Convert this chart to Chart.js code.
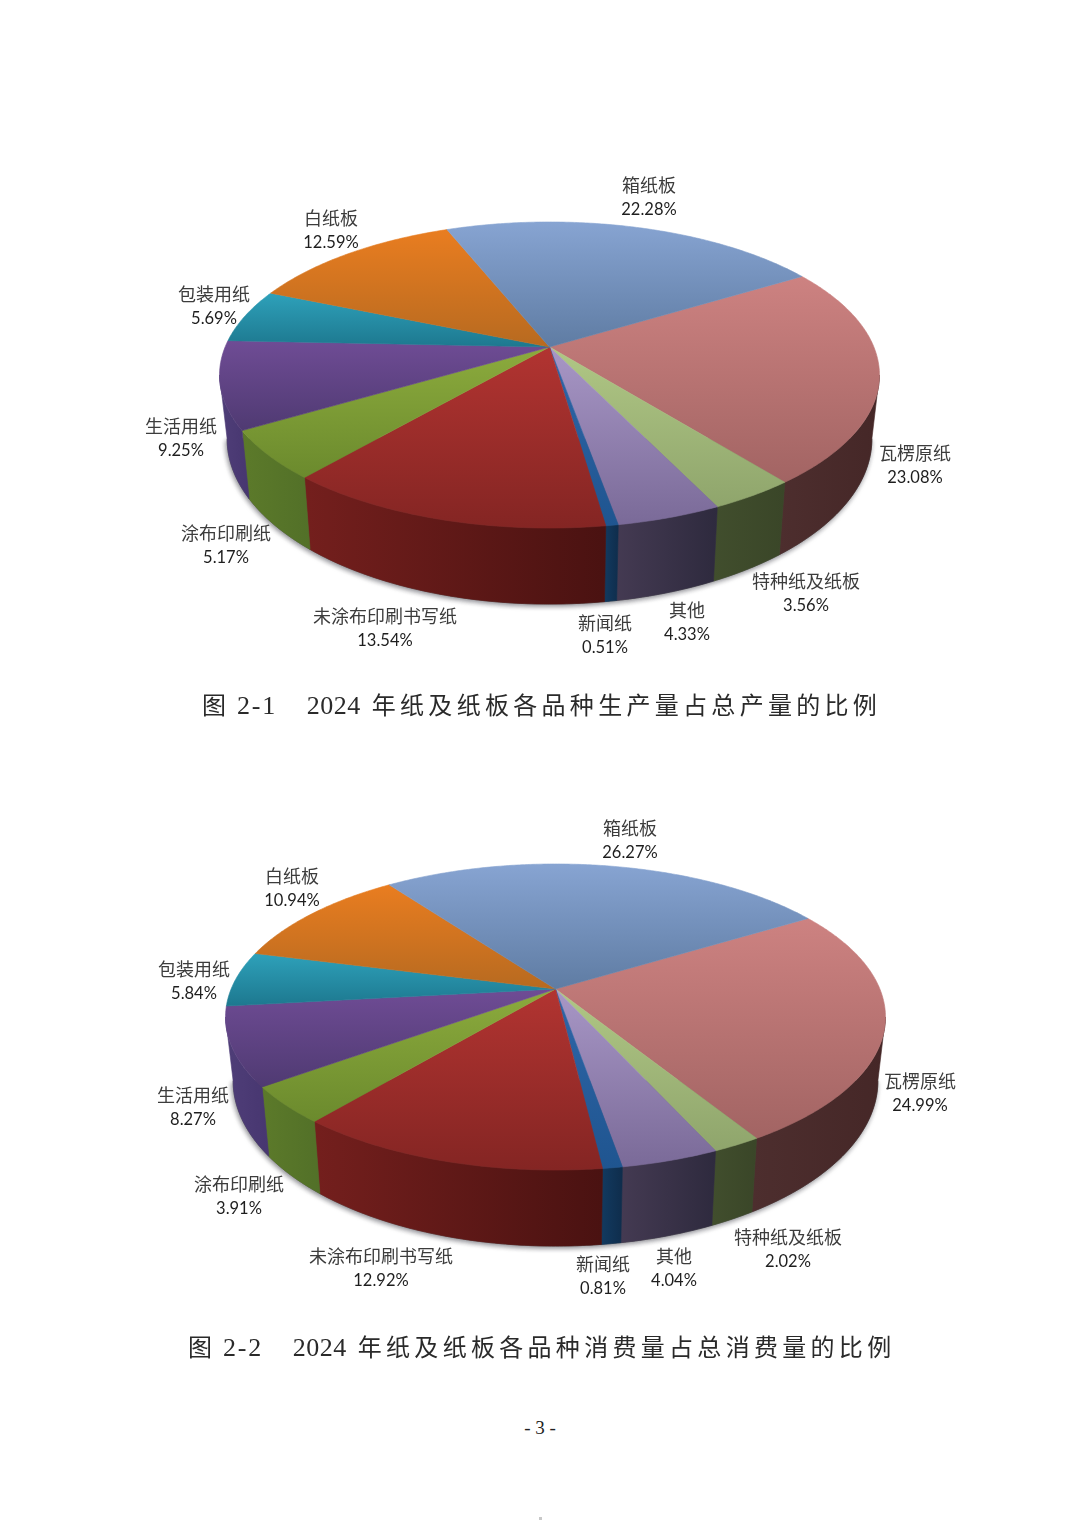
<!DOCTYPE html>
<html lang="zh">
<head>
<meta charset="utf-8">
<title>2024 年纸及纸板各品种比例</title>
<script src="https://cdn.jsdelivr.net/npm/chart.js@4"></script>
<style>
  html, body { margin: 0; padding: 0; background: #fff; }
  body { position: relative; width: 1080px; height: 1528px; overflow: hidden; }
  canvas { position: absolute; left: 0; }
  .caption {
    position: absolute;
    white-space: pre;
    font-family: "Noto Sans CJK SC", sans-serif;
    font-size: 24px;
    line-height: 30px;
    letter-spacing: 4.3px;
    word-spacing: -3px;
    color: #2a2a2a;
  }
  .caption .fig, .caption .gap, .caption .num { font-family: "Liberation Serif", serif; font-size: 26px; }
  .caption .fig { letter-spacing: 1.8px; }
  .caption .gap { letter-spacing: 0; word-spacing: 3.4px; }
  .caption .num { letter-spacing: 0.5px; word-spacing: 4px; }
  #pageNo { position: absolute; left: 0; width: 1080px; top: 1417px; text-align: center; font: 19px "Liberation Serif", serif; color: #222; }
  #dot { position: absolute; left: 539px; top: 1517px; width: 3px; height: 3px; background: #c8c8c8; }
</style>
</head>
<body>
<canvas id="pieProduction" width="1080" height="760" style="top:0"></canvas>
<canvas id="pieConsumption" width="1080" height="640" style="top:760px"></canvas>
<div class="caption" style="left:202px;top:689px">图 <span class="fig">2-1</span><span class="gap">   </span><span class="num">2024 </span>年纸及纸板各品种生产量占总产量的比例</div>
<div class="caption" style="left:188px;top:1331px">图 <span class="fig">2-2</span><span class="gap">   </span><span class="num">2024 </span>年纸及纸板各品种消费量占总消费量的比例</div>
<div id="pageNo">- 3 -</div>
<div id="dot"></div>
<script>
const categories = ["瓦楞原纸", "特种纸及纸板", "其他", "新闻纸", "未涂布印刷书写纸", "涂布印刷纸", "生活用纸", "包装用纸", "白纸板", "箱纸板"];
const productionShare = [23.08, 3.56, 4.33, 0.51, 13.54, 5.17, 9.25, 5.69, 12.59, 22.28];
const consumptionShare = [24.99, 2.02, 4.04, 0.81, 12.92, 3.91, 8.27, 5.84, 10.94, 26.27];

// slice colours, same order as categories
const topLight = ["#cd8281", "#b0c785", "#a897c6", "#2f66a8", "#b23431", "#8cab3d", "#6f4c95", "#2ea1ba", "#e97d20", "#87a4d2"];
const topDark = ["#a26463", "#8fa56c", "#7a6a98", "#1f5590", "#842523", "#6b8a2d", "#4f3a72", "#1d788f", "#b76a20", "#5f7ca3"];
const wallLight = ["#4d2e2e", "#414e2d", "#443a52", "#123a60", "#741f1d", "#5c7a2a", "#4f3e78", "#14505f", "#7a4415", "#3e5272"];
const wallDark = ["#452727", "#3a4628", "#2e2a3e", "#0f2d4c", "#4a1211", "#527028", "#473670", "#14505f", "#7a4415", "#3e5272"];

// label centres in page pixels, same order as categories
const productionLabelX = [915, 806, 687, 605, 385, 226, 181, 214, 331, 649];
const productionLabelY = [453, 581, 610, 623, 616, 533, 426, 294, 218, 185];
const consumptionLabelX = [920, 788, 674, 603, 381, 239, 193, 194, 292, 630];
const consumptionLabelY = [1081, 1237, 1256, 1264, 1256, 1184, 1095, 969, 876, 828];

// perspective of the tilted disc
const discRadius = 324.4;
const discSquash = 147.9;
const discPerspective = 0.183;
const floorScaleX = 0.977;
const floorScaleY = 1.081;
const floorDrop = 61.4;

function topPoint(angle) {
  const w = 1 - discPerspective * Math.sin(angle);
  return { x: discRadius * Math.cos(angle) / w, y: discSquash * Math.sin(angle) / w };
}

function floorPoint(angle) {
  const p = topPoint(angle);
  return { x: p.x * floorScaleX, y: p.y * floorScaleY + floorDrop };
}

function arcPoints(fn, a0, a1) {
  const steps = Math.max(2, Math.ceil((a1 - a0) / 0.01));
  const pts = [];
  for (let i = 0; i <= steps; i++) pts.push(fn(a0 + (a1 - a0) * i / steps));
  return pts;
}

function fillPath(ctx, pts, paint) {
  ctx.beginPath();
  pts.forEach((p, i) => (i ? ctx.lineTo(p.x, p.y) : ctx.moveTo(p.x, p.y)));
  ctx.closePath();
  ctx.fillStyle = paint;
  ctx.strokeStyle = paint;
  ctx.lineWidth = 0.6;
  ctx.fill();
  ctx.stroke();
}

const disc3d = {
  id: "disc3d",
  beforeDatasetsDraw(chart, args, opts) {
    const ctx = chart.ctx;
    const arcs = chart.getDatasetMeta(0).data;
    // the wall only shows between the two widest points of the disc
    const wallFrom = Math.asin(discPerspective);
    const wallTo = Math.PI - wallFrom;
    ctx.save();
    ctx.translate(opts.cx, opts.cy);

    // soft shadow under the wall
    ctx.save();
    ctx.shadowColor = "rgba(40,40,50,0.55)";
    ctx.shadowBlur = 5;
    ctx.shadowOffsetX = -1;
    ctx.shadowOffsetY = 2;
    fillPath(ctx, arcPoints(floorPoint, wallFrom, wallTo), "#555");
    ctx.restore();

    // outer wall
    arcs.forEach((arc, i) => {
      const a0 = Math.max(arc.startAngle, wallFrom);
      const a1 = Math.min(arc.endAngle, wallTo);
      if (a1 <= a0) return;
      const topEdge = arcPoints(topPoint, a0, a1);
      const floorEdge = arcPoints(floorPoint, a0, a1);
      const xs = topEdge.concat(floorEdge).map(p => p.x);
      const grad = ctx.createLinearGradient(Math.min(...xs), 0, Math.max(...xs), 0);
      grad.addColorStop(0, wallLight[i]);
      grad.addColorStop(1, wallDark[i]);
      fillPath(ctx, topEdge.concat(floorEdge.reverse()), grad);
    });

    // top face
    arcs.forEach((arc, i) => {
      const pts = [{ x: 0, y: 0 }].concat(arcPoints(topPoint, arc.startAngle, arc.endAngle));
      const ys = pts.map(p => p.y);
      const grad = ctx.createLinearGradient(0, Math.min(...ys), 0, Math.max(...ys));
      grad.addColorStop(0, topLight[i]);
      grad.addColorStop(1, topDark[i]);
      fillPath(ctx, pts, grad);
    });
    ctx.restore();

    // labels
    const values = chart.data.datasets[0].data;
    ctx.save();
    ctx.textAlign = "center";
    ctx.textBaseline = "middle";
    chart.data.labels.forEach((name, i) => {
      const x = opts.labelX[i];
      const y = opts.labelY[i] - opts.pageTop;
      ctx.fillStyle = "#3c3c3c";
      ctx.font = '18px "Noto Sans CJK SC"';
      ctx.fillText(name, x, y);
      ctx.fillStyle = "#1e1e1e";
      ctx.font = '16.5px Lato';
      ctx.fillText(values[i].toFixed(2) + "%", x, y + 25);
    });
    ctx.restore();
    return false;
  }
};

function makePie(id, values, cx, cy, pageTop, labelX, labelY) {
  return new Chart(document.getElementById(id), {
    type: "pie",
    data: {
      labels: categories,
      datasets: [{ data: values, backgroundColor: topLight, borderWidth: 0 }]
    },
    options: {
      responsive: false,
      animation: false,
      devicePixelRatio: 1,
      rotation: 58.5,
      plugins: {
        legend: { display: false },
        tooltip: { enabled: false },
        disc3d: { cx: cx, cy: cy, pageTop: pageTop, labelX: labelX, labelY: labelY }
      }
    },
    plugins: [disc3d]
  });
}

makePie("pieProduction", productionShare, 549.5, 347, 0, productionLabelX, productionLabelY);
makePie("pieConsumption", consumptionShare, 555.5, 229, 760, consumptionLabelX, consumptionLabelY);
</script>
</body>
</html>
